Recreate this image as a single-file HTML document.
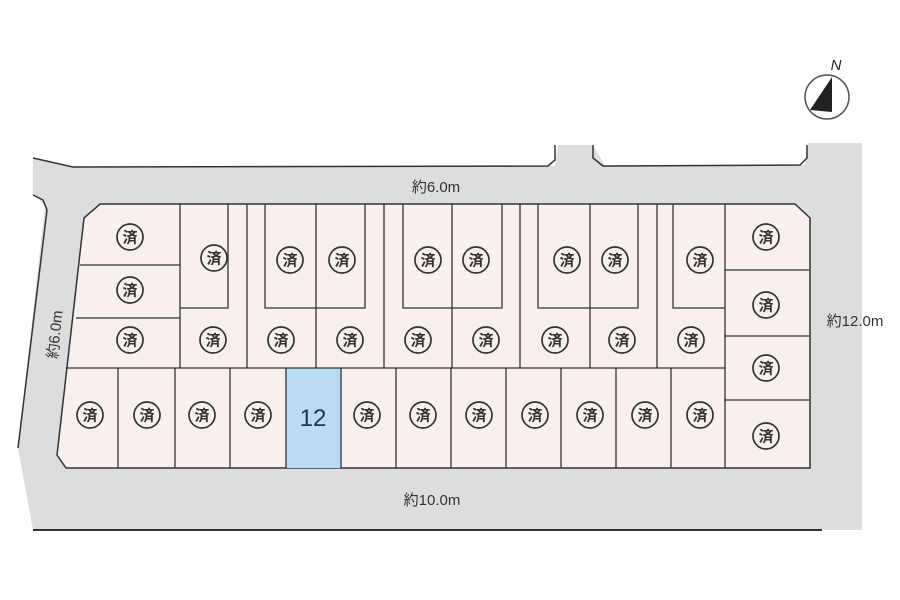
<!DOCTYPE html>
<html><head><meta charset="utf-8"><style>
html,body{margin:0;padding:0;background:#fff;}
svg{display:block}
text{font-family:"Liberation Sans","Noto Sans CJK JP",sans-serif;}
</style></head><body>
<svg width="900" height="600" viewBox="0 0 900 600" xmlns="http://www.w3.org/2000/svg">
<defs>
<g id="s"><circle r="13" fill="none" stroke="#333" stroke-width="1.7"/><text y="5.5" text-anchor="middle" font-size="15" font-weight="bold" fill="#333">済</text></g>
</defs>
<path d="M33,158 L73,167 L555,166 L558,145 L593,145 L605,166 L805,165 L808,143 L862,143 L862,530 L822,530 L33,530 L18,448 L45,205 L33,195 Z" fill="#dcdddf"/>
<path d="M33,158 L73,167 L548,166 L555,160 L555,145" fill="none" stroke="#333" stroke-width="1.5"/>
<path d="M593,145 L593,158 L603,166 L800,165 L807,158 L807,145" fill="none" stroke="#333" stroke-width="1.5"/>
<path d="M33,195 L43,200 L47,210 L18,448" fill="none" stroke="#333" stroke-width="1.5"/>
<path d="M33,530 L822,530" stroke="#333" stroke-width="2"/>
<path d="M100,204 L795,204 L810,218 L810,468 L66,468 L57,455 L84,218 Z" fill="#f8f0ed" stroke="#333" stroke-width="1.5"/>
<rect x="286" y="368" width="55" height="100" fill="#b9dcf3"/>
<g stroke="#333" stroke-width="1.3" fill="none">
<path d="M80,265 L180,265 M76,318 L180,318 M66,368 L725,368"/>
<path d="M180,204 L180,368"/>
<path d="M180,308 L228,308 L228,204"/>
<path d="M725,204 L725,468 M725,270 L810,270 M725,336 L810,336 M725,400 L810,400"/>
<path d="M247,204 L247,368 M316,308 L316,368 M384,204 L384,368 M452,308 L452,368 M520,204 L520,368 M590,308 L590,368 M657,204 L657,368"/>
<path d="M265,204 L265,308 L365,308 L365,204 M316,204 L316,308"/>
<path d="M403,204 L403,308 L502,308 L502,204 M452,204 L452,308"/>
<path d="M538,204 L538,308 L638,308 L638,204 M590,204 L590,308"/>
<path d="M673,204 L673,308 L725,308"/>
<path d="M118,368 L118,468 M175,368 L175,468 M230,368 L230,468 M286,368 L286,468 M341,368 L341,468 M396,368 L396,468 M451,368 L451,468 M506,368 L506,468 M561,368 L561,468 M616,368 L616,468 M671,368 L671,468"/>
</g>
<use href="#s" x="130" y="237"/><use href="#s" x="130" y="290"/><use href="#s" x="130" y="340"/>
<use href="#s" x="214" y="258"/><use href="#s" x="290" y="260"/><use href="#s" x="342" y="260"/><use href="#s" x="428" y="260"/><use href="#s" x="476" y="260"/><use href="#s" x="567" y="260"/><use href="#s" x="615" y="260"/><use href="#s" x="700" y="260"/>
<use href="#s" x="213" y="340"/><use href="#s" x="281" y="340"/><use href="#s" x="350" y="340"/><use href="#s" x="418" y="340"/><use href="#s" x="486" y="340"/><use href="#s" x="555" y="340"/><use href="#s" x="622" y="340"/><use href="#s" x="691" y="340"/>
<use href="#s" x="766" y="237"/><use href="#s" x="766" y="305"/><use href="#s" x="766" y="368"/><use href="#s" x="766" y="436"/>
<use href="#s" x="90" y="415"/><use href="#s" x="147" y="415"/><use href="#s" x="202" y="415"/><use href="#s" x="258" y="415"/><use href="#s" x="367" y="415"/><use href="#s" x="423" y="415"/><use href="#s" x="479" y="415"/><use href="#s" x="535" y="415"/><use href="#s" x="590" y="415"/><use href="#s" x="645" y="415"/><use href="#s" x="700" y="415"/>
<text x="313" y="426" text-anchor="middle" font-size="24" fill="#1f3550">12</text>
<text x="436" y="192" text-anchor="middle" font-size="15" fill="#333">約6.0m</text>
<text x="855" y="326" text-anchor="middle" font-size="15" fill="#333">約12.0m</text>
<text x="432" y="505" text-anchor="middle" font-size="15" fill="#333">約10.0m</text>
<text transform="translate(60,335) rotate(-84)" text-anchor="middle" font-size="15" fill="#333">約6.0m</text>
<circle cx="827" cy="97" r="22" fill="#fff" stroke="#555" stroke-width="1.5"/>
<path d="M832,77 L810,110 L832,112 Z" fill="#222"/>
<text x="836" y="70" text-anchor="middle" font-size="15" font-style="italic" fill="#222">N</text>
</svg>
</body></html>
